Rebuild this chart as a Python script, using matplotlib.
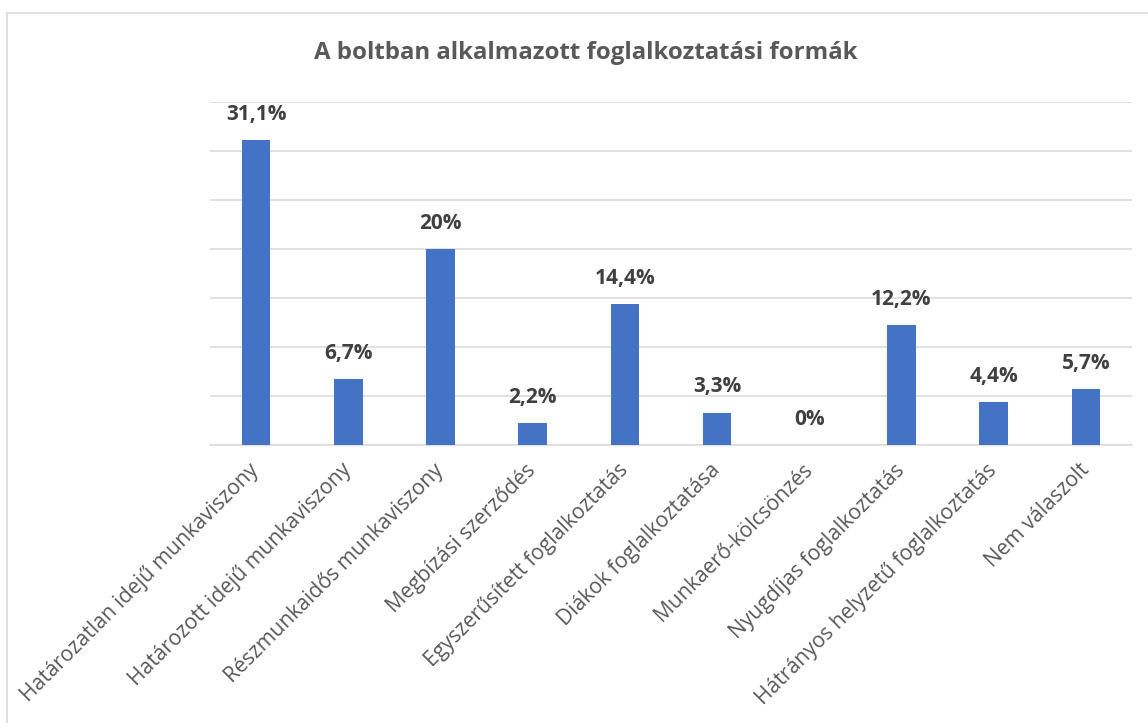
import matplotlib.pyplot as plt
from matplotlib.lines import Line2D

# adatok
categories = ["Határozatlan idejű munkaviszony", "Határozott idejű munkaviszony",
              "Részmunkaidős munkaviszony", "Megbízási szerződés",
              "Egyszerűsített foglalkoztatás", "Diákok foglalkoztatása",
              "Munkaerő-kölcsönzés", "Nyugdíjas foglalkoztatás",
              "Hátrányos helyzetű foglalkoztatás", "Nem válaszolt"]
values = [31.1, 6.7, 20, 2.2, 14.4, 3.3, 0, 12.2, 4.4, 5.7]
labels = ["31,1%", "6,7%", "20%", "2,2%", "14,4%", "3,3%", "0%", "12,2%", "4,4%", "5,7%"]
title = "A boltban alkalmazott foglalkoztatási formák"

plt.rcParams['font.family'] = ['Open Sans', 'DejaVu Sans']

fig = plt.figure(figsize=(11.48, 7.23), dpi=100)
ax = fig.add_axes([210/1148, 1-445/723, 922/1148, 343/723])

x = range(len(values))
bars = ax.bar(x, values, width=0.31, color='#4472C4', zorder=3)

for i, v in enumerate(values):
    ax.annotate(labels[i], (i, v), xytext=(0, 11), textcoords='offset points',
                ha='center', va='bottom', fontsize=15, fontweight='bold', color='#404040')

ax.set_xlim(-0.5, len(values) - 0.5)
ax.set_ylim(0, 35)
ax.set_yticks(range(0, 36, 5))
ax.set_yticklabels([])
ax.tick_params(axis='y', length=0)
ax.tick_params(axis='x', length=0, pad=16)
ax.grid(axis='y', color='#D9D9D9', linewidth=1.1, zorder=0)
for s in ['top', 'right', 'left']:
    ax.spines[s].set_visible(False)
ax.spines['bottom'].set_color('#D9D9D9')
ax.spines['bottom'].set_linewidth(1.1)

ax.set_xticks(list(x))
ax.set_xticklabels(categories, rotation=45, ha='right', va='center',
                   rotation_mode='anchor', fontsize=15.2, color='#595959')

fig.text(586/1148, 1-53/723, title, ha='center', va='center',
         fontsize=17.3, fontweight='bold', color='#595959')

# keret
fig.add_artist(Line2D([7/1148, 1], [1-13/723, 1-13/723], color='#D9D9D9', lw=1.2))
fig.add_artist(Line2D([7/1148, 7/1148], [0, 1-13/723], color='#D9D9D9', lw=1.2))

fig.savefig('out.png', dpi=100)
